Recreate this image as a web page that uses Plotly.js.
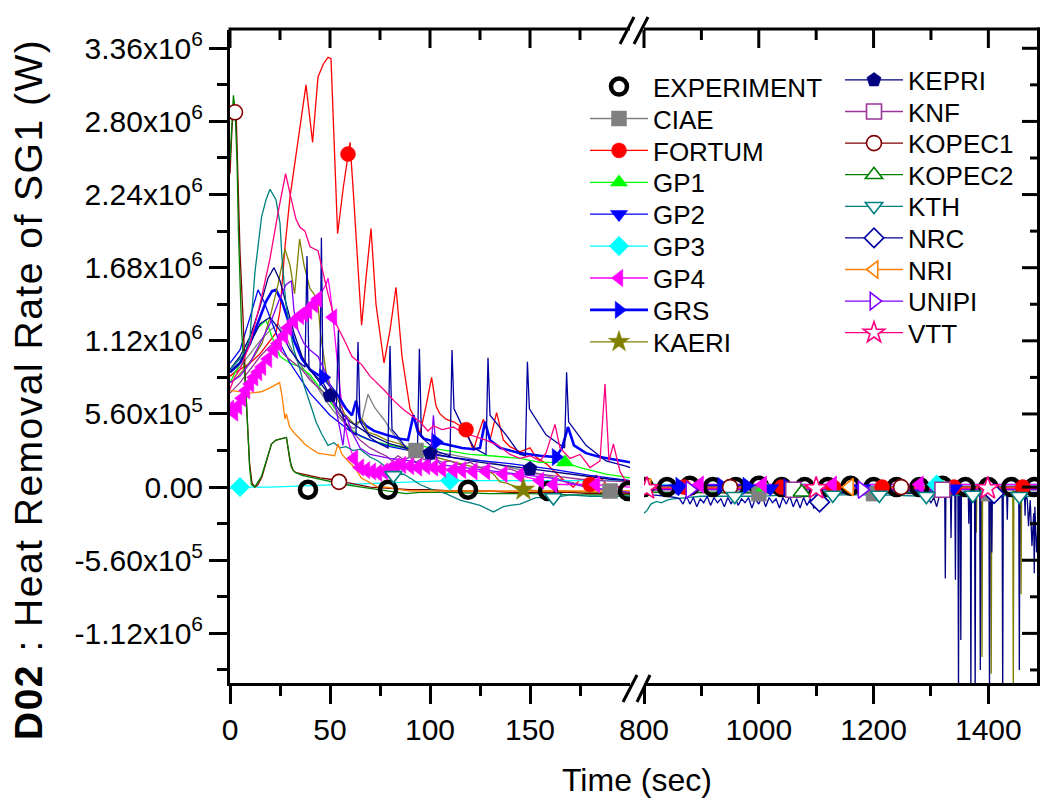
<!DOCTYPE html>
<html><head><meta charset="utf-8">
<script src="https://cdn.plot.ly/plotly-3.0.1.min.js"></script>
<style>
html,body{margin:0;padding:0;background:#fff}#chart{width:1041px;height:803px}
text.annotation-text[data-unformatted*="Heat"]{letter-spacing:1.5px}
</style>
</head><body><div id="chart"></div>
<script>
// Heat removal rate of SG1, values in units of 10^6 W; time in s.
// Left panel 0-200 s, right panel 800-1490 s (broken axis).

const expTL = [39, 79, 119, 159, 199];
const expVL = [-0.02, -0.02, -0.02, -0.03, -0.03];
const expTR = [800, 840, 880, 920, 960, 1000, 1040, 1080, 1120, 1160, 1200, 1240, 1280, 1320, 1360, 1400, 1440, 1480];
const expVR = [0.0, 0.0, 0.01, 0.0, 0.0, 0.01, 0.0, 0.0, 0.0, 0.01, 0.0, 0.0, 0.0, 0.01, 0.0, 0.0, 0.0, 0.0];

const ciaeTL = [0, 5, 10, 15, 20, 24, 28, 33, 38, 43, 48, 53, 58, 62, 66, 69, 72.3, 77.3, 81, 85.7, 90, 93, 100, 110, 120, 130, 140, 150, 160, 170, 180, 190, 200];
const ciaeVL = [0.85, 0.92, 1.02, 1.12, 1.2, 1.25, 1.15, 0.98, 0.88, 0.78, 0.66, 0.56, 0.48, 0.45, 0.52, 0.71, 0.61, 0.51, 0.42, 0.33, 0.3, 0.28, 0.27, 0.25, 0.22, 0.19, 0.15, 0.12, 0.08, 0.04, 0.0, -0.03, -0.05];
const ciaeTR = [800, 1000, 1200, 1400, 1490];
const ciaeVR = [-0.04, -0.05, -0.05, -0.05, -0.05];
const ciaeML = [93, 190], ciaeMR = [1000, 1200, 1400];

const fortumTL = [0, 5, 10, 15, 20, 23, 25, 27.5, 30, 33, 35, 38, 41.3, 44, 46.7, 49, 50.5, 53.8, 56.7, 59, 60, 61.7, 65.8, 68, 70.5, 73, 77, 80, 83, 86, 90, 92, 95, 98, 100.8, 103, 105, 108, 111.7, 115, 118, 121.7, 124, 126.7, 130, 133.3, 136.7, 140, 145, 150, 153, 158, 163, 167, 171.7, 175, 180, 183, 186.7, 190, 193, 197, 200];
const fortumVL = [0.85, 0.9, 0.95, 1.02, 1.12, 1.18, 1.35, 1.84, 2.22, 2.55, 2.78, 3.08, 2.64, 3.14, 3.24, 3.29, 3.28, 1.94, 2.3, 2.55, 2.64, 2.25, 1.24, 1.6, 1.98, 1.4, 0.95, 1.2, 1.53, 1.0, 0.6, 0.54, 0.41, 0.62, 0.84, 0.62, 0.56, 0.52, 0.5, 0.47, 0.44, 0.28, 0.4, 0.52, 0.36, 0.57, 0.36, 0.31, 0.27, 0.3, 0.23, 0.18, 0.11, 0.05, 0.0, 0.06, 0.02, 0.09, 0.05, -0.02, 0.02, -0.05, -0.06];
const fortumTR = [800, 870, 950, 1040, 1130, 1215, 1340, 1460, 1490];
const fortumVR = [-0.03, 0.0, 0.0, 0.0, 0.0, 0.0, 0.0, 0.0, 0.0];
const fortumML = [59, 118, 180], fortumMR = [870, 950, 1040, 1130, 1215, 1340, 1460];

const gp1TL = [0, 5, 10, 14, 18, 21, 25, 30, 35, 40, 45, 50, 55, 60, 65, 70, 80, 87, 95, 100, 111.7, 120, 130, 145, 155, 167.5, 175, 188, 200];
const gp1VL = [0.8, 0.95, 1.1, 1.22, 1.28, 1.15, 1.0, 0.95, 0.92, 0.86, 0.76, 0.65, 0.55, 0.45, 0.39, 0.36, 0.32, 0.3, 0.32, 0.3, 0.27, 0.25, 0.24, 0.22, 0.19, 0.19, 0.15, 0.1, 0.07];
const gp1TR = [800, 1010, 1320, 1490];
const gp1VR = [0.0, 0.0, 0.0, 0.0];
const gp1ML = [167.5], gp1MR = [1010, 1320];

const gp2TL = [0, 5, 10, 14, 17, 20, 25, 30, 35, 40, 50, 60, 70, 80, 90, 100, 110, 120, 140, 160, 180, 200];
const gp2VL = [0.95, 1.05, 1.3, 1.51, 1.42, 1.3, 1.1, 0.95, 0.83, 0.72, 0.55, 0.43, 0.36, 0.31, 0.28, 0.25, 0.23, 0.21, 0.18, 0.14, 0.09, 0.05];
const gp2TR = [800, 860, 1020, 1180, 1340, 1490];
const gp2VR = [-0.02, -0.01, -0.01, -0.01, -0.01, -0.01];
const gp2ML = [], gp2MR = [860, 1020, 1180, 1340];

const gp3TL = [0, 5, 20, 40, 60, 80, 100, 110, 130, 150, 170, 200];
const gp3VL = [-0.01, 0.0, 0.0, 0.01, 0.02, 0.03, 0.04, 0.05, 0.05, 0.05, 0.05, 0.05];
const gp3TR = [800, 1310, 1490];
const gp3VR = [0.02, 0.02, 0.02];
const gp3ML = [5, 110], gp3MR = [1310];

const gp4TL = [0, 2, 4, 6, 8, 10, 12, 14, 16, 19, 22, 24, 27, 29, 32, 35, 37, 39, 42, 44, 46, 48, 49, 50, 51.5, 53, 55, 57, 60, 62, 65, 68, 71, 74, 77, 80, 83, 86, 90, 94, 98, 102, 106, 111.7, 116, 121.7, 128, 132, 136.7, 141, 145, 150, 155, 161.7, 170, 178, 183, 190, 200];
const gp4VL = [0.6, 0.57, 0.62, 0.68, 0.74, 0.79, 0.84, 0.88, 0.92, 0.98, 1.05, 1.1, 1.16, 1.22, 1.27, 1.31, 1.33, 1.35, 1.4, 1.44, 1.5, 1.55, 1.6, 1.5, 1.3, 1.05, 0.75, 0.5, 0.3, 0.22, 0.15, 0.13, 0.12, 0.11, 0.12, 0.14, 0.16, 0.17, 0.16, 0.15, 0.16, 0.15, 0.14, 0.13, 0.13, 0.12, 0.12, 0.11, 0.1, 0.1, 0.09, 0.07, 0.05, 0.02, 0.02, 0.02, 0.02, 0.01, 0.0];
const gp4TR = [800, 897, 1007, 1129, 1280, 1490];
const gp4VR = [0.01, 0.02, 0.02, 0.02, 0.02, 0.02];
const gp4ML = [0, 2, 4, 6, 8, 10, 12, 14, 16, 19, 22, 24, 27, 29, 32, 35, 37, 39, 42, 44, 51.5, 62, 65, 68, 71, 74, 77, 80, 83, 86, 90, 94, 98, 102, 106, 111.7, 116, 121.7, 128, 136.7, 145, 155, 161.7, 183];
const gp4MR = [897, 1007, 1129, 1280];

const grsTL = [0, 5, 10, 15, 18, 21, 23, 26, 29, 32, 36, 40, 44, 46.7, 50, 54, 58, 61, 63, 65, 68, 72, 78, 85, 89, 91.7, 94, 97, 103, 110, 116, 122, 125, 127.5, 130, 135, 145, 155, 163, 166, 169, 172, 178, 185, 192, 200];
const grsVL = [0.88, 0.95, 1.1, 1.3, 1.42, 1.5, 1.51, 1.42, 1.28, 1.12, 0.98, 0.9, 0.86, 0.84, 0.78, 0.7, 0.6, 0.55, 0.66, 0.52, 0.47, 0.43, 0.4, 0.37, 0.36, 0.55, 0.42, 0.37, 0.345, 0.32, 0.3, 0.29, 0.3, 0.5, 0.36, 0.3, 0.26, 0.24, 0.23, 0.3, 0.46, 0.32, 0.26, 0.23, 0.21, 0.19];
const grsTR = [800, 862, 935, 979, 1050, 1490];
const grsVR = [0.0, 0.01, 0.01, 0.01, 0.0, 0.0];
const grsML = [46.7, 103, 163], grsMR = [862, 935, 979, 1050];

const kaeriTL = [0, 2, 4, 8, 12, 16, 20, 24, 27.5, 30, 32.3, 34.8, 37, 40, 42, 44, 45.3, 48.7, 53, 57.3, 62.3, 66, 69, 73, 78.3, 85, 90, 95, 100, 110, 115, 120, 125, 131.7, 135, 138.3, 146.7, 155, 165, 180, 200];
const kaeriVL = [0.8, 0.82, 0.85, 0.92, 1.0, 1.1, 1.3, 1.55, 1.82, 1.7, 1.48, 1.9, 1.7, 1.52, 1.48, 1.4, 1.17, 0.81, 0.7, 0.56, 0.48, 0.52, 0.42, 0.4, 0.36, 0.33, 0.27, 0.25, 0.24, 0.2, 0.18, 0.16, 0.15, 0.1, 0.04, 0.03, -0.02, -0.03, -0.03, -0.04, -0.04];
const kaeriTR = [800, 900, 1000, 1100, 1200, 1300, 1378, 1379, 1380, 1388, 1389, 1390, 1404, 1405, 1406, 1442.5, 1443.5, 1444.5, 1456, 1457, 1458, 1490];
const kaeriVR = [-0.02, -0.02, -0.02, -0.02, -0.02, -0.02, -0.02, -0.35, -0.02, -0.02, -1.3, -0.02, -0.02, -1.43, -0.02, -0.02, -1.6, -0.02, -0.02, -0.82, -0.02, -0.02];
const kaeriML = [146.7], kaeriMR = [];

const kepriTL = [0, 5, 10, 15, 19, 22, 25, 28, 32, 36, 40, 45, 50, 55, 60, 70, 80, 90, 100, 110, 120, 130, 140, 150, 160, 170, 180, 190, 200];
const kepriVL = [0.9, 1.0, 1.15, 1.38, 1.6, 1.68, 1.58, 1.4, 1.18, 1.0, 0.9, 0.8, 0.70, 0.58, 0.5, 0.4, 0.33, 0.29, 0.26, 0.23, 0.2, 0.18, 0.16, 0.14, 0.12, 0.1, 0.08, 0.06, 0.05];
const kepriTR = [800, 900, 1000, 1100, 1200, 1290, 1300, 1305, 1310, 1315, 1320, 1324, 1325, 1326, 1334, 1335, 1336, 1341.6, 1342.6, 1343.6, 1347, 1348, 1349, 1351, 1352, 1353, 1365, 1366, 1367, 1368.6, 1369.6, 1370.6, 1376, 1377, 1378, 1385, 1386, 1387, 1401, 1402, 1403, 1405, 1406, 1407, 1424, 1425, 1426, 1432, 1433, 1434, 1453, 1454, 1455, 1463, 1464, 1465, 1468, 1470, 1473, 1476, 1479, 1480, 1481, 1484, 1487, 1490];
const kepriVR = [-0.04, -0.04, -0.04, -0.04, -0.04, -0.05, -0.12, -0.08, -0.15, -0.06, -0.05, -0.05, -0.70, -0.05, -0.05, -0.39, -0.05, -0.05, -0.71, -0.05, -0.05, -1.6, -0.05, -0.05, -1.17, -0.05, -0.05, -0.28, -0.05, -0.05, -1.6, -0.05, -0.05, -1.6, -0.05, -0.05, -1.4, -0.05, -0.05, -1.6, -0.05, -0.05, -0.5, -0.05, -0.05, -1.6, -0.05, -0.05, -0.25, -0.05, -0.05, -1.4, -0.05, -0.05, -0.22, -0.05, -0.1, -0.3, -0.1, -0.45, -0.2, -0.66, -0.15, -0.5, -0.25, -0.35];
const kepriML = [50, 100, 150], kepriMR = [];

const knfTL = [0, 5, 10, 15, 20, 22, 25, 28, 32, 36, 40, 45, 50, 55, 60, 65, 70, 75, 78, 81, 84, 87, 90, 93, 96, 99, 102, 106, 110, 115, 120, 125, 130, 135, 140, 145, 155, 165, 175, 185, 200];
const knfVL = [0.72, 0.8, 0.9, 1.0, 1.08, 1.1, 1.05, 1.0, 0.95, 0.9, 0.82, 0.75, 0.68, 0.55, 0.45, 0.36, 0.3, 0.26, 0.24, 0.2, 0.24, 0.21, 0.23, 0.19, 0.22, 0.2, 0.22, 0.19, 0.2, 0.17, 0.19, 0.15, 0.16, 0.13, 0.14, 0.11, 0.1, 0.08, 0.06, 0.05, 0.04];
const knfTR = [800, 1060, 1320, 1490];
const knfVR = [-0.02, -0.02, -0.02, -0.02];
const knfML = [], knfMR = [1060, 1320];

const kopec1TL = [0, 1, 2, 2.5, 3, 4, 5, 6.5, 8, 9.8, 11, 12.5, 14, 16, 18, 20.7, 23, 25.7, 28.2, 30, 31.5, 33, 36, 40, 45, 50, 54.5, 60, 70, 80, 90, 100, 110, 120, 130, 140, 150, 160, 170, 180, 190, 200];
const kopec1VL = [2.4, 2.75, 2.95, 2.87, 2.9, 2.3, 1.8, 1.3, 0.7, 0.18, 0.03, 0.0, 0.02, 0.08, 0.18, 0.33, 0.36, 0.37, 0.38, 0.2, 0.13, 0.11, 0.1, 0.09, 0.07, 0.06, 0.04, 0.03, 0.0, -0.01, -0.02, -0.02, -0.03, -0.03, -0.03, -0.04, -0.04, -0.04, -0.04, -0.05, -0.05, -0.05];
const kopec1TR = [800, 950, 1248, 1490];
const kopec1VR = [-0.01, 0.0, 0.0, 0.0];
const kopec1ML = [2.5, 54.5], kopec1MR = [950, 1248];

const kopec2TL = [0, 1, 1.7, 2.5, 3.5, 4.2, 5.8, 8.2, 9.8, 10.7, 12.3, 15.7, 18, 20.7, 23, 25.7, 28.2, 30.7, 32.3, 36, 39, 45, 49, 57.3, 65.7, 75, 88, 95, 110, 130, 150, 170, 190, 200];
const kopec2VL = [2.5, 2.85, 3.0, 2.9, 2.5, 1.97, 1.2, 0.66, 0.15, 0.02, 0.0, 0.08, 0.2, 0.33, 0.36, 0.37, 0.38, 0.15, 0.115, 0.09, 0.08, 0.06, 0.05, 0.02, 0.0, -0.02, -0.05, -0.04, -0.04, -0.05, -0.05, -0.06, -0.06, -0.06];
const kopec2TR = [800, 1075, 1490];
const kopec2VR = [-0.04, -0.04, -0.04];
const kopec2ML = [], kopec2MR = [1075];

const kthTL = [0, 3, 6, 8, 10, 12.5, 15.8, 18, 20, 23, 25, 26, 28, 30, 32, 35, 37, 40.7, 43, 45.7, 49, 52, 55, 58, 61.7, 65, 70, 74, 78.3, 81.7, 86.7, 91, 95, 101, 108, 115, 120, 125, 131.7, 136.7, 140, 145, 153, 161.7, 170, 180, 190, 200];
const kthVL = [0.9, 0.95, 1.0, 1.05, 1.15, 1.65, 2.07, 2.2, 2.28, 2.2, 2.02, 1.75, 1.4, 1.2, 1.05, 0.9, 0.78, 0.61, 0.5, 0.41, 0.32, 0.34, 0.3, 0.31, 0.28, 0.29, 0.23, 0.2, 0.15, 0.09, 0.1, 0.06, 0.02, -0.02, -0.05, -0.1, -0.12, -0.14, -0.19, -0.15, -0.14, -0.13, -0.08, -0.08, -0.06, -0.07, -0.07, -0.07];
const kthTR = [800, 805, 812, 822, 830, 840, 850, 870, 900, 958, 1000, 1060, 1129, 1210, 1292, 1373, 1454, 1490];
const kthVR = [-0.2, -0.18, -0.13, -0.11, -0.12, -0.1, -0.09, -0.08, -0.07, -0.07, -0.07, -0.06, -0.06, -0.06, -0.07, -0.06, -0.07, -0.07];
const kthML = [81.7, 161.7], kthMR = [958, 1129, 1210, 1292, 1373, 1454];

const nrcTL = [0, 5, 10, 15, 20, 25, 30, 35, 37.5, 38.5, 39.5, 42, 45, 45.7, 46.5, 50, 53.2, 54.2, 55, 58, 61, 63, 64, 65, 70, 75, 79, 80, 81, 83.3, 88, 91.7, 93.7, 94.7, 95.7, 98, 104, 108, 110, 111, 112, 116.7, 122, 128, 129, 130, 138, 145, 147.7, 148.7, 149.7, 158, 166.7, 167.3, 168.3, 169.3, 178, 188, 198, 200];
const nrcVL = [0.88, 0.95, 1.1, 1.25, 1.3, 1.2, 1.05, 0.95, 0.92, 1.77, 0.9, 0.86, 0.82, 1.91, 0.8, 0.7, 0.62, 1.2, 0.6, 0.48, 0.42, 0.4, 1.11, 0.5, 0.38, 0.33, 0.3, 1.08, 0.44, 0.4, 0.3, 0.27, 0.26, 1.06, 0.39, 0.35, 0.27, 0.25, 0.24, 1.05, 0.6, 0.45, 0.3, 0.25, 0.99, 0.55, 0.4, 0.25, 0.24, 0.96, 0.6, 0.4, 0.3, 0.3, 0.88, 0.5, 0.32, 0.2, 0.16, 0.15];
const nrcTR = [800, 815, 840, 856, 862, 868, 874, 880, 886, 892, 898, 904, 910, 916, 922, 928, 934, 940, 946, 952, 958, 964, 970, 976, 982, 988, 994, 1000, 1006, 1012, 1018, 1024, 1030, 1036, 1042, 1048, 1054, 1060, 1066, 1072, 1078, 1084, 1090, 1096, 1106, 1115, 1200, 1300, 1410, 1490];
const nrcVR = [-0.05, -0.06, -0.07, -0.08, -0.09, -0.13, -0.07, -0.13, -0.08, -0.15, -0.09, -0.12, -0.07, -0.14, -0.08, -0.12, -0.09, -0.15, -0.08, -0.13, -0.07, -0.14, -0.09, -0.12, -0.08, -0.16, -0.09, -0.13, -0.07, -0.15, -0.08, -0.12, -0.09, -0.16, -0.08, -0.13, -0.07, -0.15, -0.09, -0.16, -0.08, -0.14, -0.09, -0.16, -0.115, -0.05, -0.03, -0.03, -0.05, -0.04];
const nrcML = [], nrcMR = [1106, 1410];

const nriTL = [0, 5, 10, 15.7, 20, 24.8, 26, 27.5, 28.2, 29.8, 32.3, 35, 37.3, 40, 44, 48, 52.3, 54, 56, 59, 62.3, 65.7, 68, 70, 74, 78.3, 85, 90.7, 100, 120, 140, 160, 180, 200];
const nriVL = [0.74, 0.73, 0.72, 0.73, 0.76, 0.8, 0.7, 0.52, 0.56, 0.46, 0.41, 0.37, 0.33, 0.3, 0.26, 0.25, 0.24, 0.33, 0.25, 0.2, 0.15, 0.07, 0.05, 0.03, 0.0, 0.0, -0.02, -0.03, -0.03, -0.03, -0.03, -0.03, -0.03, -0.03];
const nriTR = [800, 805, 1158, 1490];
const nriVR = [0.0, 0.0, 0.0, 0.0];
const nriML = [], nriMR = [805, 1158];

const unipiTL = [0, 5, 10, 15, 20, 22, 25, 28, 30.7, 32, 34, 37, 40, 44, 49, 53, 56.5, 58, 61, 65, 70, 80, 90, 95, 100, 101.7, 103.5, 106, 111.7, 120, 131.7, 145, 160, 178, 190, 200];
const unipiVL = [0.8, 0.85, 0.95, 1.1, 1.25, 1.33, 1.45, 1.55, 1.58, 1.35, 1.2, 1.1, 1.05, 1.0, 0.84, 0.6, 0.32, 0.55, 0.42, 0.3, 0.25, 0.22, 0.2, 0.18, 0.17, 0.55, 0.2, 0.17, 0.16, 0.14, 0.12, 0.1, 0.07, 0.0, -0.02, -0.04];
const unipiTR = [800, 880, 1180, 1490];
const unipiVR = [-0.02, -0.02, -0.02, -0.02];
const unipiML = [], unipiMR = [880, 1180];

const vttTL = [0, 2.3, 5, 10, 15, 20, 24, 27.8, 30.7, 33, 35, 37.5, 40, 44, 49, 53, 57.3, 61, 65.7, 70, 77.3, 82, 87, 91.7, 95, 99, 101.7, 106, 111.7, 116, 121.7, 128, 134, 140, 145, 150, 155, 158, 162.5, 165, 170, 175, 180, 185, 187.5, 189.5, 191.7, 195, 198, 200];
const vttVL = [0.75, 0.84, 0.9, 1.1, 1.4, 1.75, 2.1, 2.4, 2.2, 2.05, 1.99, 1.96, 1.84, 1.81, 1.48, 1.25, 1.12, 1.0, 0.94, 0.85, 0.74, 0.66, 0.59, 0.54, 0.5, 0.43, 0.47, 0.44, 0.46, 0.42, 0.39, 0.36, 0.32, 0.25, 0.22, 0.24, 0.2, 0.26, 0.48, 0.3, 0.22, 0.25, 0.15, 0.2, 0.79, 0.2, 0.33, 0.12, 0.04, 0.05];
const vttTR = [800, 805, 1100, 1399, 1490];
const vttVR = [-0.01, -0.01, -0.01, -0.01, -0.01];
const vttML = [], vttMR = [805, 1100, 1399];

const yTickVals = [-1.12, -0.56, 0, 0.56, 1.12, 1.68, 2.24, 2.80, 3.36];
const yTickText = ['-1.12x10<sup>6</sup>', '-5.60x10<sup>5</sup>', '0.00', '5.60x10<sup>5</sup>', '1.12x10<sup>6</sup>', '1.68x10<sup>6</sup>', '2.24x10<sup>6</sup>', '2.80x10<sup>6</sup>', '3.36x10<sup>6</sup>'];
const yMinorVals = [-1.40, -0.84, -0.28, 0.28, 0.84, 1.40, 1.96, 2.52, 3.08];
const xLeftTicks = [0, 50, 100, 150], xLeftMinor = [25, 75, 125, 175];
const xRightTicks = [800, 1000, 1200, 1400], xRightMinor = [900, 1100, 1300];

// series styling (colour, symbol, open marker, line width, legend column)
const seriesDefs = [
  {name:'CIAE', c:'#808080', s:'square', open:false, w:1.3, tl:ciaeTL, vl:ciaeVL, tr:ciaeTR, vr:ciaeVR, ml:ciaeML, mr:ciaeMR, col:0},
  {name:'FORTUM', c:'#FF0000', s:'circle', open:false, w:1.3, tl:fortumTL, vl:fortumVL, tr:fortumTR, vr:fortumVR, ml:fortumML, mr:fortumMR, col:0},
  {name:'GP1', c:'#00FF00', s:'triangle-up', open:false, w:1.3, tl:gp1TL, vl:gp1VL, tr:gp1TR, vr:gp1VR, ml:gp1ML, mr:gp1MR, col:0},
  {name:'GP2', c:'#0000FF', s:'triangle-down', open:false, w:1.3, tl:gp2TL, vl:gp2VL, tr:gp2TR, vr:gp2VR, ml:gp2ML, mr:gp2MR, col:0},
  {name:'GP3', c:'#00FFFF', s:'diamond', open:false, w:1.3, tl:gp3TL, vl:gp3VL, tr:gp3TR, vr:gp3VR, ml:gp3ML, mr:gp3MR, col:0},
  {name:'GP4', c:'#FF00FF', s:'triangle-left', open:false, w:1.3, tl:gp4TL, vl:gp4VL, tr:gp4TR, vr:gp4VR, ml:gp4ML, mr:gp4MR, col:0},
  {name:'GRS', c:'#0000FF', s:'triangle-right', open:false, w:2.6, tl:grsTL, vl:grsVL, tr:grsTR, vr:grsVR, ml:grsML, mr:grsMR, col:0},
  {name:'KAERI', c:'#808000', s:'star', open:false, w:1.3, tl:kaeriTL, vl:kaeriVL, tr:kaeriTR, vr:kaeriVR, ml:kaeriML, mr:kaeriMR, col:0},
  {name:'KEPRI', c:'#000080', s:'pentagon', open:false, w:1.3, tl:kepriTL, vl:kepriVL, tr:kepriTR, vr:kepriVR, ml:kepriML, mr:kepriMR, col:1},
  {name:'KNF', c:'#993399', s:'square', open:true, w:1.3, tl:knfTL, vl:knfVL, tr:knfTR, vr:knfVR, ml:knfML, mr:knfMR, col:1},
  {name:'KOPEC1', c:'#800000', s:'circle', open:true, w:1.3, tl:kopec1TL, vl:kopec1VL, tr:kopec1TR, vr:kopec1VR, ml:kopec1ML, mr:kopec1MR, col:1},
  {name:'KOPEC2', c:'#008000', s:'triangle-up', open:true, w:1.3, tl:kopec2TL, vl:kopec2VL, tr:kopec2TR, vr:kopec2VR, ml:kopec2ML, mr:kopec2MR, col:1},
  {name:'KTH', c:'#008080', s:'triangle-down', open:true, w:1.3, tl:kthTL, vl:kthVL, tr:kthTR, vr:kthVR, ml:kthML, mr:kthMR, col:1},
  {name:'NRC', c:'#0000A0', s:'diamond', open:true, w:1.3, tl:nrcTL, vl:nrcVL, tr:nrcTR, vr:nrcVR, ml:nrcML, mr:nrcMR, col:1},
  {name:'NRI', c:'#FF8000', s:'triangle-left', open:true, w:1.3, tl:nriTL, vl:nriVL, tr:nriTR, vr:nriVR, ml:nriML, mr:nriMR, col:1},
  {name:'UNIPI', c:'#8000FF', s:'triangle-right', open:true, w:1.3, tl:unipiTL, vl:unipiVL, tr:unipiTR, vr:unipiVR, ml:unipiML, mr:unipiMR, col:1},
  {name:'VTT', c:'#FF0080', s:'star', open:true, w:1.3, tl:vttTL, vl:vttVL, tr:vttTR, vr:vttVR, ml:vttML, mr:vttMR, col:1}
];

function pickMarks(t, v, marks) {
  const x = [], y = [];
  marks.forEach(m => {
    const k = t.indexOf(m);
    if (k < 0) return;
    if (x.length) { x.push(null); y.push(null); }
    x.push(t[k]); y.push(v[k]);
  });
  if (!x.length) { x.push(null); y.push(null); }
  return {x, y};
}

const FONT = 'Liberation Sans, Arial, Helvetica, sans-serif';
const W = 1041, H = 803, ML = 230, MR = 1, MT = 30, MB = 120;
const PW = W - ML - MR, PH = H - MT - MB;
const px = v => (v - ML) / PW;      // pixel x -> paper
const py = v => (H - MB - v) / PH;  // pixel y -> paper
const domL = [0, 400/PW], domR = [414/PW, 1];
const rangeL = [0, 200], rangeR = [800, 1490], rangeY = [-1.5, 3.5];
const toPaperX = (v, dom, rng) => dom[0] + (v - rng[0]) / (rng[1] - rng[0]) * (dom[1] - dom[0]);

const traces = [];
seriesDefs.forEach(d => {
  traces.push({type:'scatter', mode:'lines', x:d.tl, y:d.vl, xaxis:'x', yaxis:'y', showlegend:false, hoverinfo:'skip',
    line:{color:d.c, width:d.w}});
  traces.push({type:'scatter', mode:'lines', x:d.tr, y:d.vr, xaxis:'x2', yaxis:'y', showlegend:false, hoverinfo:'skip',
    line:{color:d.c, width:d.w}});
});
function markerStyle(d) {
  const sz = d.s === 'star' ? 17 : 15;
  return d.open ? {symbol:d.s, size:sz, color:'#FFFFFF', line:{color:d.c, width:1.6}}
                : {symbol:d.s, size:sz, color:d.c, line:{color:d.c, width:0.5}};
}
const expMarker = {symbol:'circle', size:16, color:'rgba(0,0,0,0)', line:{color:'#000000', width:4.5}};
traces.push({type:'scatter', mode:'markers', x:expTL, y:expVL, xaxis:'x', yaxis:'y', showlegend:false, marker:expMarker});
seriesDefs.forEach(d => {
  const p = pickMarks(d.tl, d.vl, d.ml);
  traces.push({type:'scatter', mode:'lines+markers', x:p.x, y:p.y, xaxis:'x', yaxis:'y', showlegend:false, connectgaps:false,
    line:{color:d.c, width:d.w}, marker:markerStyle(d)});
});

// each legend row is its own legend box so rows can be placed like the reference
const legendLayouts = {};
function legendBox(key, col, row) {
  const xPix = col === 0 ? 585 : 840;
  const yPix = col === 0 ? 86.7 + row * 31.9 : 80 + row * 31.6;
  legendLayouts[key] = {x:px(xPix), y:py(yPix), xanchor:'left', yanchor:'middle', bgcolor:'rgba(0,0,0,0)', borderwidth:0,
    font:{family:FONT, size:26, color:'#000'}, itemwidth:58, tracegroupgap:0};
}
legendBox('legend', 0, 0);
traces.push({type:'scatter', mode:'markers', name:'EXPERIMENT', x:expTR, y:expVR, xaxis:'x2', yaxis:'y', legend:'legend', marker:expMarker});
let rowL = 1, rowR = 0;
seriesDefs.forEach((d, i) => {
  const key = 'legend' + (i + 2);
  if (d.col === 0) legendBox(key, 0, rowL++); else legendBox(key, 1, rowR++);
  const p = pickMarks(d.tr, d.vr, d.mr);
  traces.push({type:'scatter', mode:'lines+markers', name:d.name, x:p.x, y:p.y, xaxis:'x2', yaxis:'y', legend:key, connectgaps:false,
    line:{color:d.c, width:d.w}, marker:markerStyle(d)});
});

const axBase = {showgrid:false, zeroline:false, showline:true, linecolor:'#000', linewidth:3,
  tickcolor:'#000', tickwidth:3, tickfont:{family:FONT, size:30, color:'#000'}};
const minorOut = vals => ({tickmode:'array', tickvals:vals, ticks:'outside', ticklen:10, tickwidth:3, tickcolor:'#000'});

// frame: top border and right border with inward ticks
const frameLine = {color:'#000', width:3};
const frameShapes = [
  {type:'rect', xref:'paper', yref:'paper', x0:domL[0] - 1.5/PW, x1:domL[1], y0:1 - 0.5/PH, y1:1 + 2.5/PH, fillcolor:'#000', line:{width:0}, layer:'above'},
  {type:'rect', xref:'paper', yref:'paper', x0:domR[0], x1:1, y0:1 - 0.5/PH, y1:1 + 2.5/PH, fillcolor:'#000', line:{width:0}, layer:'above'},
  {type:'line', xref:'paper', yref:'paper', x0:1 - 1.5/PW, x1:1 - 1.5/PW, y0:0, y1:1 + 2.5/PH, line:frameLine, layer:'above'}
];
function topTicks(vals, dom, rng, len) {
  vals.forEach(v => {
    const xp = toPaperX(v, dom, rng);
    frameShapes.push({type:'line', xref:'paper', yref:'paper', x0:xp, x1:xp, y0:1, y1:1 - len/PH, line:frameLine, layer:'above'});
  });
}
topTicks(xLeftTicks, domL, rangeL, 18); topTicks(xLeftMinor, domL, rangeL, 10);
topTicks(xRightTicks, domR, rangeR, 18); topTicks(xRightMinor, domR, rangeR, 10);
yTickVals.forEach(v => frameShapes.push({type:'line', xref:'paper', yref:'y', x0:1, x1:1 - 18/PW, y0:v, y1:v, line:frameLine}));
yMinorVals.forEach(v => frameShapes.push({type:'line', xref:'paper', yref:'y', x0:1, x1:1 - 10/PW, y0:v, y1:v, line:frameLine}));
// axis-break marks
const breakShapes = [
  {type:'line', xref:'paper', yref:'paper', x0:px(623), y0:py(702), x1:px(637), y1:py(675), line:frameLine},
  {type:'line', xref:'paper', yref:'paper', x0:px(637), y0:py(702), x1:px(650), y1:py(675), line:frameLine},
  {type:'line', xref:'paper', yref:'paper', x0:px(620), y0:py(44), x1:px(634), y1:py(17), line:frameLine},
  {type:'line', xref:'paper', yref:'paper', x0:px(634), y0:py(44), x1:px(648), y1:py(17), line:frameLine}
];

const layout = Object.assign({
  width:W, height:H,
  margin:{l:ML, r:MR, t:MT, b:MB},
  paper_bgcolor:'#fff', plot_bgcolor:'#fff',
  font:{family:FONT, color:'#000'},
  showlegend:true,
  xaxis: Object.assign({}, axBase, {domain:domL, range:rangeL, anchor:'y',
    tickmode:'array', tickvals:xLeftTicks, ticks:'outside', ticklen:18, minor:minorOut(xLeftMinor)}),
  xaxis2: Object.assign({}, axBase, {domain:domR, range:rangeR, anchor:'y',
    tickmode:'array', tickvals:xRightTicks, ticks:'outside', ticklen:18, minor:minorOut(xRightMinor)}),
  yaxis: Object.assign({}, axBase, {domain:[0, 1], range:rangeY, anchor:'x',
    tickmode:'array', tickvals:yTickVals, ticktext:yTickText, ticks:'outside', ticklen:18, minor:minorOut(yMinorVals)}),
  annotations: [
    {xref:'paper', yref:'paper', x:px(28), y:py(390), xanchor:'center', yanchor:'middle', textangle:-90, showarrow:false,
      text:'<b>D02</b> : Heat Removal Rate of SG1 (W)', font:{family:FONT, size:39, color:'#000'}},
    {xref:'paper', yref:'paper', x:px(637), y:py(780), xanchor:'center', yanchor:'middle', showarrow:false,
      text:'Time (sec)', font:{family:FONT, size:32, color:'#000'}}
  ],
  shapes: frameShapes.concat(breakShapes)
}, legendLayouts);

Plotly.newPlot('chart', traces, layout, {displayModeBar:false, staticPlot:true});
</script>
</body></html>
